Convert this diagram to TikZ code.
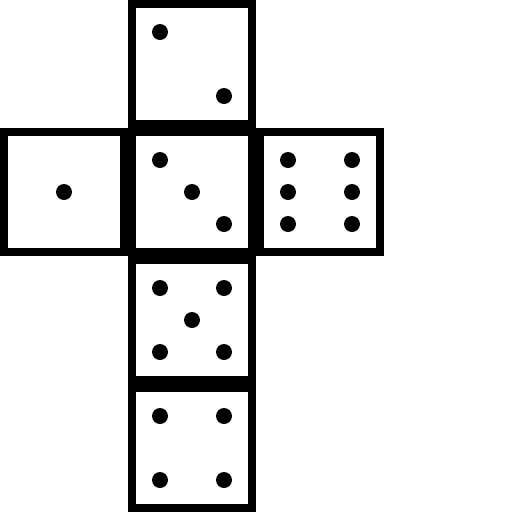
\documentclass[tikz,border=0pt]{standalone}
\usepackage{tikz}
\usetikzlibrary{positioning}

\begin{document}
\begin{tikzpicture}[
    x=1pt,y=-1pt,
    face/.style={rectangle,draw,line width=8pt,minimum size=120pt,inner sep=0pt,outer sep=4pt},
    pip/.style={fill=black}
]
\useasboundingbox (0,0) rectangle (512,512);

% Faces
\node[face] (three) at (192,192) {};
\node[face,above=0pt of three] (two) {};
\node[face,left=0pt of three] (one) {};
\node[face,right=0pt of three] (six) {};
\node[face,below=0pt of three] (five) {};
\node[face,below=0pt of five] (four) {};

% Pips
\foreach \f/\dx/\dy in {two/-32/-32, two/32/32,
    one/0/0,
    three/-32/-32, three/0/0, three/32/32,
    six/-32/-32, six/32/-32, six/-32/0, six/32/0, six/-32/32, six/32/32,
    five/-32/-32, five/32/-32, five/0/0, five/-32/32, five/32/32,
    four/-32/-32, four/32/-32, four/-32/32, four/32/32}
    \fill[pip] ([shift={(\dx,\dy)}]\f.center) circle (8);

\end{tikzpicture}
\end{document}
